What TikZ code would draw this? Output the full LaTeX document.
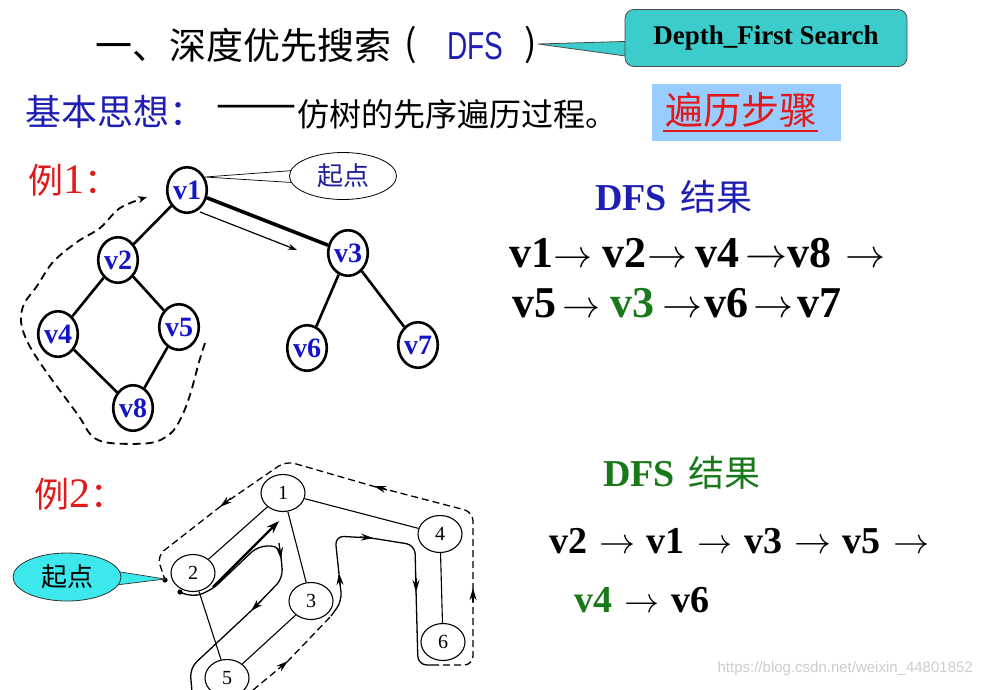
\documentclass[tikz,border=0pt]{standalone}
\usepackage{fontspec}
\setmainfont{Liberation Serif}
\newfontfamily\cjk{Noto Sans CJK SC}
\newfontfamily\sansf{Liberation Sans}
\usetikzlibrary{shapes.geometric,arrows.meta}
\definecolor{tealbox}{RGB}{60,204,204}
\definecolor{lightbluebox}{RGB}{153,204,255}
\definecolor{titleblue}{RGB}{30,30,180}
\definecolor{nodeblue}{RGB}{20,20,200}
\definecolor{redtxt}{RGB}{225,25,25}
\definecolor{greentxt}{RGB}{25,120,25}
\definecolor{cyanfill}{RGB}{60,232,235}
\definecolor{navytxt}{RGB}{30,30,150}
\newcommand{\myfs}[1]{\fontsize{#1}{#1}\selectfont}
\newcommand{\myra}[1]{\resizebox{#1}{!}{$\rightarrow$}}
\begin{document}
\begin{tikzpicture}[x=1pt,y=-1pt,
  txt/.style={inner sep=0pt, anchor=west},
  tnode/.style={ellipse, draw, line width=2.6pt, fill=white, minimum width=39.5pt, minimum height=45.5pt, inner sep=0pt, text=nodeblue, font=\bfseries\myfs{28}},
  tedge/.style={line width=2.6pt},
  gnode/.style={ellipse, draw, line width=1.1pt, fill=white, minimum width=44pt, minimum height=37pt, inner sep=0pt, font=\myfs{20}},
  gedge/.style={line width=1.1pt},
  route/.style={line width=1.3pt, rounded corners=9pt},
  dashroute/.style={route, dash pattern=on 7pt off 4pt},
  tipend/.style={-{Stealth[length=12pt,width=7pt]}},
]
\useasboundingbox (0,0) rectangle (981,689);
\fill[white] (0,0) rectangle (981,689);

% ---------- title line ----------
\node[txt, font=\cjk\myfs{37}] (title) at (95,45) {一、深度优先搜索};
\node[txt, font=\cjk\myfs{37}] (lpar) at (404,45) {(};
\node[txt, font=\sansf\myfs{39}, text=titleblue] (dfs) at (447,46) {\scalebox{0.72}[1]{DFS}};
\node[txt, font=\cjk\myfs{37}] (rpar) at (524,45) {)};

% callout Depth_First Search
\coordinate (cp1) at (640,41);
\coordinate (cp2) at (640,58);
\coordinate (ctip) at (538,44);
\filldraw[fill=tealbox, draw=black!70, line width=0.8pt] (cp1) -- (ctip) -- (cp2) -- cycle;
\node[draw=black!70, line width=0.8pt, fill=tealbox, rounded corners=9pt, minimum width=282pt, minimum height=57pt, font=\bfseries\myfs{27}] (dfsbox) at (766,38) {Depth\_First Search};

% ---------- second line ----------
\node[txt, font=\cjk\myfs{36}, text=titleblue] (idea) at (25,112) {基本思想：};
\node[txt, font=\bfseries\myfs{38}] (dash) at (218,110) {——};
\node[txt, font=\cjk\myfs{32}] (ideatxt) at (297,114) {仿树的先序遍历过程。};
\node[fill=lightbluebox, minimum width=189pt, minimum height=57pt, inner sep=0pt] (stepsbox) at (746,112) {};
\node[inner sep=0pt, font=\cjk\myfs{38}, text=redtxt] (steps) at (741,110) {遍历步骤};
\coordinate (ul1) at (663,131);
\coordinate (ul2) at (818,131);
\draw[redtxt, line width=1.6pt] (ul1) -- (ul2);

% ---------- example 1 ----------
\node[txt, font=\myfs{35}, text=redtxt] (ex1) at (28,180) {{\cjk 例}{\myfs{42}1}{\cjk ：}};

\node[tnode] (v1) at (187,190) {v1};
\node[tnode] (v2) at (118,260) {v2};
\node[tnode] (v3) at (348,253) {v3};
\node[tnode] (v4) at (58,334) {v4};
\node[tnode] (v5) at (179,327) {v5};
\node[tnode] (v6) at (307,348) {v6};
\node[tnode] (v7) at (418,345) {v7};
\node[tnode] (v8) at (133,408) {v8};

\draw[tedge] (v1) -- (v2);
\draw[line width=3.6pt] (v1) -- (v3);
\draw[tedge] (v2) -- (v4);
\draw[tedge] (v2) -- (v5);
\draw[tedge] (v4) -- (v8);
\draw[tedge] (v5) -- (v8);
\draw[tedge] (v3) -- (v6);
\draw[tedge] (v3) -- (v7);

% thin arrow v1 -> towards v3
\coordinate (a1s) at (200,212);
\coordinate (a1e) at (297,250);
\draw[line width=1.2pt, -{Stealth[length=9pt,width=6pt]}] (a1s) -- (a1e);

% start callout 1
\coordinate (s1tip) at (205,177);
\coordinate (s1a) at (300,170);
\coordinate (s1b) at (300,183);
\filldraw[fill=white, draw=black, line width=0.7pt] (s1a) -- (s1tip) -- (s1b);
\node[ellipse, draw, line width=0.8pt, fill=white, minimum width=107pt, minimum height=47pt, inner sep=0pt, font=\cjk\myfs{26}, text=navytxt] (start1) at (343,176) {起点};

% dashed return path
\draw[line width=1.8pt, dash pattern=on 8pt off 5pt, -{Stealth[length=9pt,width=7pt]}]
  plot[smooth, tension=0.55] coordinates {(205,343) (199,362) (190,395) (181,418) (170,434) (150,443) (110,443) (92,436) (78,415) (45,370) (28,343) (21,322) (24,304) (37,286) (53,262) (77,242) (100,228) (120,208) (147,197)};

% results 1
\node[txt, font=\bfseries\myfs{38}, text=titleblue] (res1h) at (595,197) {DFS\hspace{0.35em}{\mdseries\cjk\myfs{36}结果}};
\node[txt, font=\bfseries\myfs{44}] (res1a) at (509,253) {v1\myra{39pt}\hspace{10pt}v2\hspace{1pt}\myra{40pt}\hspace{8pt}v4\hspace{6pt}\myra{42pt}v8\hspace{14pt}\myra{40pt}};
\node[txt, font=\bfseries\myfs{44}] (res1b) at (512,303) {v5\hspace{6pt}\myra{38pt}\hspace{10pt}{\color{greentxt}v3}\hspace{8pt}\myra{40pt}\hspace{2pt}v6\hspace{5pt}\myra{40pt}\hspace{4pt}v7};

% ---------- example 2 ----------
\node[txt, font=\myfs{35}, text=redtxt] (ex2) at (34,494) {{\cjk 例}{\myfs{42}2}{\cjk ：}};

\node[gnode] (n1) at (283,493) {1};
\node[gnode] (n2) at (193,573) {2};
\node[gnode] (n3) at (311,601) {3};
\node[gnode] (n4) at (440,534) {4};
\node[gnode] (n5) at (227,678) {5};
\node[gnode] (n6) at (443,642) {6};

\draw[gedge] (n1) -- (n2);
\draw[gedge] (n1) -- (n3);
\draw[gedge] (n1) -- (n4);
\draw[gedge] (n2) -- (n5);
\draw[gedge] (n3) -- (n5);
\draw[gedge] (n4) -- (n6);

% traversal routes
\draw[line width=2.4pt, -{Stealth[length=13pt,width=9pt]}] (213,587) -- (279,521);
\draw[route] (180,592) -- (192,597) -- (208,592) -- (217,585);
\draw[route] (217,585) -- (258,546) -- (280,546) -- (281,557);
\draw[route, tipend] (279,543) -- (281,559);
\draw[route] (281,557) -- (283,578) -- (252,610);
\draw[route, tipend] (262,600) -- (251,611);
\draw[route] (252,610) -- (190,668) -- (192,692);

\draw[dashroute, tipend] (253,690) -- (288,661);
\draw[dashroute] (287,662) -- (331,616);
\draw[route] (331,616) -- (342,601) -- (339,575);
\draw[route, tipend] (340,585) -- (339,573);
\draw[route] (339,574) -- (335,536) -- (371,538);
\draw[route, tipend] (360,537) -- (373,538);
\draw[route] (371,538) -- (415,545) -- (416,590);
\draw[route, tipend] (416,578) -- (416,592);
\draw[route] (416,590) -- (418,665) -- (432,665);
\draw[dashroute] (432,665) -- (473,665) -- (473,592);
\draw[route, tipend] (473,602) -- (473,588);
\draw[dashroute] (473,590) -- (473,512) -- (377,487);
\draw[route, tipend] (387,490) -- (374,486);
\draw[dashroute] (376,487) -- (286,461) -- (222,505);
\draw[route, tipend] (231,498) -- (220,507);
\draw[dashroute] (221,506) -- (157,556) -- (165,580);
\fill (165,580) circle (2.6pt);
\fill (180,592) circle (2.6pt);

% start callout 2
\coordinate (s2a) at (108,570);
\coordinate (s2b) at (108,586);
\coordinate (s2tip) at (165,579);
\filldraw[fill=cyanfill, draw=black!80, line width=0.7pt] (s2a) -- (s2tip) -- (s2b) -- cycle;
\node[ellipse, draw=black!80, line width=0.8pt, fill=cyanfill, minimum width=108pt, minimum height=48pt, inner sep=0pt, font=\cjk\myfs{26}] (start2) at (67,577) {起点};

% results 2
\node[txt, font=\bfseries\myfs{38}, text=greentxt] (res2h) at (603,473) {DFS\hspace{0.35em}{\mdseries\cjk\myfs{36}结果}};
\node[txt, font=\bfseries\myfs{38}] (res2a) at (549,541) {v2\hspace{12pt}\myra{36pt}\hspace{11pt}v1\hspace{13pt}\myra{35pt}\hspace{12pt}v3\hspace{12pt}\myra{37pt}\hspace{11pt}v5\hspace{13pt}\myra{36pt}};
\node[txt, font=\bfseries\myfs{38}] (res2b) at (574,600) {{\color{greentxt}v4}\hspace{12pt}\myra{35pt}\hspace{12pt}v6};

% watermark
\node[inner sep=0pt, anchor=east, font=\sansf\myfs{15}, text=black!20] (wm) at (973,669) {https://blog.csdn.net/weixin\_44801852};
\end{tikzpicture}
\end{document}
